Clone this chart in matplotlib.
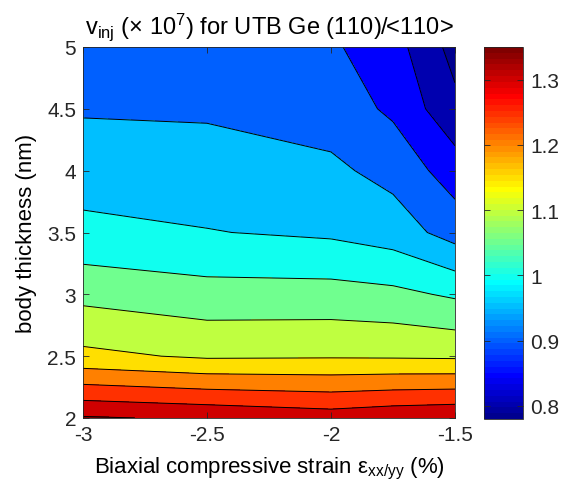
import numpy as np
import matplotlib
matplotlib.use("Agg")
import matplotlib.pyplot as plt
from matplotlib.colors import Normalize, ListedColormap
from matplotlib.cm import ScalarMappable

plt.rcParams["font.family"] = ["Liberation Sans", "DejaVu Sans"]
plt.rcParams["mathtext.fontset"] = "custom"
plt.rcParams["mathtext.rm"] = "Liberation Sans"
plt.rcParams["mathtext.it"] = "Liberation Sans:italic"
plt.rcParams["axes.unicode_minus"] = False

# Biaxial compressive strain (%) and body thickness (nm)
strain = [-3.0, -2.5, -2.0, -1.75, -1.5]
thickness = [2.0, 2.5, 3.0, 3.5, 4.0, 4.5, 5.0]

# Injection velocity (x 1e7 cm/s), one row per body thickness
v_t20 = [1.355, 1.343, 1.326, 1.338, 1.345]
v_t25 = [1.162, 1.143, 1.145, 1.144, 1.142]
v_t30 = [1.086, 1.069, 1.069, 1.062, 1.043]
v_t35 = [1.012, 1.002, 0.992, 0.976, 0.929]
v_t40 = [0.979, 0.973, 0.960, 0.934, 0.875]
v_t45 = [0.945, 0.943, 0.927, 0.891, 0.813]
v_t50 = [0.925, 0.918, 0.907, 0.871, 0.782]

x_ticks = [-3, -2.5, -2, -1.5]
x_tick_labels = ["-3", "-2.5", "-2", "-1.5"]
y_ticks = [2, 2.5, 3, 3.5, 4, 4.5, 5]
y_tick_labels = ["2", "2.5", "3", "3.5", "4", "4.5", "5"]
cbar_ticks = [0.8, 0.9, 1.0, 1.1, 1.2, 1.3]
cbar_tick_labels = ["0.8", "0.9", "1", "1.1", "1.2", "1.3"]

Z = np.array([v_t20, v_t25, v_t30, v_t35, v_t40, v_t45, v_t50])
X, Y = np.meshgrid(strain, thickness)


def classic_jet(n=64):
    """64-step jet table built the classic way (piecewise ramps)."""
    m = int(np.ceil(n / 4))
    u = np.concatenate([np.arange(1, m + 1) / m, np.ones(m - 1),
                        np.arange(m, 0, -1) / m])
    g = int(np.ceil(m / 2)) - int(n % 4 == 1) + np.arange(1, len(u) + 1)
    r = g + m
    b = g - m
    g = g[g <= n]
    r = r[r <= n]
    b = b[b >= 1]
    J = np.zeros((n, 3))
    J[r - 1, 0] = u[:len(r)]
    J[g - 1, 1] = u[:len(g)]
    J[b - 1, 2] = u[len(u) - len(b):]
    return ListedColormap(J)


zmin, zmax = Z.min(), Z.max()
cmap = classic_jet(64)
# colour limits of the map
norm = Normalize(vmin=0.78, vmax=1.35)

# contour levels every 0.05; each band takes the colour of its lower level
inner = list(np.round(np.arange(0.8, 1.351, 0.05), 3))
levels = [zmin] + inner + [zmax + 1e-6]
band_colors = [cmap(norm(lv)) for lv in levels[:-1]]

fs_tick = 15
fs_lab = 16
fig = plt.figure(figsize=(5.76, 4.81), dpi=100)
ax = fig.add_axes([83 / 576, 1 - 419 / 481, 372 / 576, 371 / 481])
cax = fig.add_axes([484 / 576, 1 - 420 / 481, 39 / 576, 372 / 481])

ax.contourf(X, Y, Z, levels=levels, colors=band_colors)
ax.contour(X, Y, Z, levels=inner, colors="k", linewidths=0.7)

ax.set_xlim(-3, -1.5)
ax.set_ylim(2, 5)
ax.set_xticks(x_ticks)
ax.set_xticklabels(x_tick_labels)
ax.set_yticks(y_ticks)
ax.set_yticklabels(y_tick_labels)
ax.tick_params(direction="in", top=True, right=True, length=4, width=0.6,
               labelsize=fs_tick, colors="#262626")
ax.tick_params(axis="x", pad=5)
ax.tick_params(axis="y", pad=5)
for sp in ax.spines.values():
    sp.set_linewidth(0.6)
    sp.set_color("#262626")

ax.set_title("v$_{\\mathrm{inj}}$ (× 10$^{7}$) for UTB Ge (110)/<110>",
             fontsize=17, pad=10)
ax.set_xlabel("Biaxial compressive strain ε$_{\\mathrm{xx/yy}}$ (%)",
              fontsize=fs_lab, labelpad=8)
ax.set_ylabel("body thickness (nm)", fontsize=fs_lab, labelpad=7)

sm = ScalarMappable(norm=norm, cmap=cmap)
cb = fig.colorbar(sm, cax=cax)
cb.set_ticks(cbar_ticks)
cb.set_ticklabels(cbar_tick_labels)
cb.outline.set_linewidth(0.6)
cb.outline.set_edgecolor("#262626")
cax.tick_params(direction="in", left=True, right=True, length=4, width=0.6,
                labelsize=fs_tick, pad=5, colors="#262626")

fig.savefig("out.png", dpi=100)
